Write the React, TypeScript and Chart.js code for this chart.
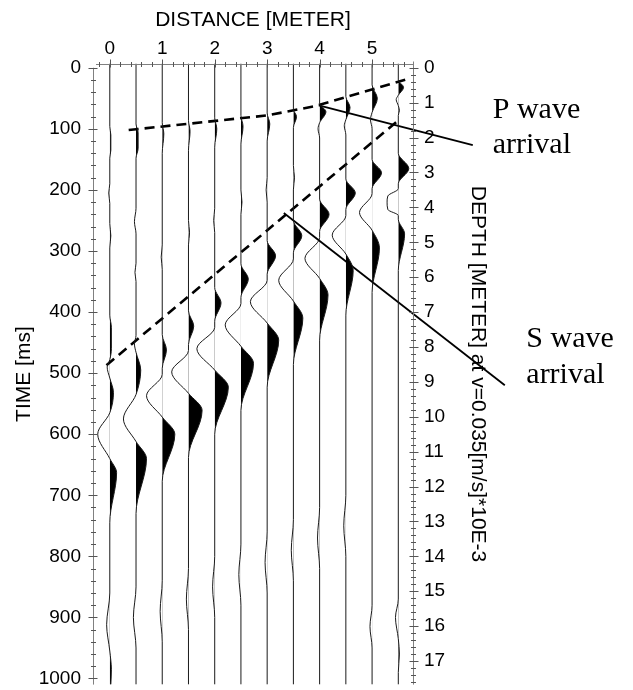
import React, { useEffect, useRef } from 'react';
import { Chart, registerables } from 'chart.js';

Chart.register(...registerables);

// ---------- data ----------
// trace positions along the line (m)
const DISTANCES = [0, 0.5, 1, 1.5, 2, 2.5, 3, 3.5, 4, 4.5, 5, 5.5];

// each trace: [time ms, relative amplitude] (positive = right, filled black)
const TRACE_0 = [[-7,0],[96,0],[110,1],[135,1],[148,0],[190,0],[205,-1],[222,0],[255,0],[275,1],[295,0],[405,0],[425,1.5],[460,1.5],[478,0],[490,-2.5],[508,0],[532,3.5],[565,0],[600,-11.5],[640,0],[663,6.5],[745,0],[860,0],[912,-3],[955,0],[985,1.5],[1010,1]];
const TRACE_1 = [[-7,0],[92,0],[106,2],[132,2],[148,0],[230,0],[252,-1.5],[272,0],[320,0],[335,-1],[350,0],[438,0],[452,-1.5],[466,0],[495,4.5],[535,0],[575,-12],[612,0],[640,10],[730,0],[850,0],[900,-2.5],[950,0],[1010,0]];
const TRACE_2 = [[-7,0],[90,0],[108,1.5],[140,0],[290,0],[310,-1],[330,0],[437,0],[462,4],[492,0],[502,0],[537,-15],[572,0],[600,12],[677,0],[840,0],[890,-2],[940,0],[1010,0]];
const TRACE_3 = [[-7,0],[86,0],[104,1.5],[135,0],[250,0],[270,1],[290,0],[398,0],[423,5],[453,0],[463,0],[498,-16],[533,0],[561,13],[638,0],[820,0],[870,-2],[920,0],[1010,0]];
const TRACE_4 = [[-7,0],[82,0],[100,2],[130,0],[230,0],[250,-1],[270,0],[360,0],[385,6],[415,0],[425,0],[460,-17],[495,0],[523,13],[600,0],[800,0],[850,-2],[900,0],[1010,0]];
const TRACE_5 = [[-7,0],[78,0],[96,2],[125,0],[200,0],[220,1],[240,0],[321,0],[346,7],[376,0],[386,0],[421,-15],[456,0],[484,12],[561,0],[780,0],[830,-2],[880,0],[1010,0]];
const TRACE_6 = [[-7,0],[74,0],[92,2.5],[120,0],[180,0],[200,-1],[220,0],[283,0],[308,8],[338,0],[348,0],[383,-16],[418,0],[446,11],[523,0],[760,0],[810,-2],[860,0],[1010,0]];
const TRACE_7 = [[-7,0],[68,0],[80,3],[98,0],[160,0],[180,1],[200,0],[250,0],[275,8],[303,0],[313,0],[348,-14],[382,0],[410,9],[486,0],[740,0],[790,-2],[840,0],[1010,0]];
const TRACE_8 = [[-7,0],[58,0],[72,6],[90,0],[100,-1.5],[115,0],[215,0],[240,9],[268,0],[278,0],[312,-14],[345,0],[372,8],[446,0],[720,0],[770,-2],[820,0],[1010,0]];
const TRACE_9 = [[-7,0],[47,0],[65,4],[85,0],[95,-1.5],[110,0],[182,0],[205,9],[232,0],[242,0],[274,-13],[305,0],[332,7],[405,0],[700,0],[750,-2],[800,0],[1010,0]];
const TRACE_10 = [[-7,0],[28,0],[50,5],[73,0],[85,-1.5],[100,0],[150,0],[172,9],[198,0],[206,0],[237,-12],[266,0],[295,7],[368,0],[880,0],[915,-2],[950,0],[1010,0]];
const TRACE_11 = [[-7,0],[20,0],[32,5],[45,0],[52,-2],[62,0],[70,1],[78,0],[140,0],[165,10],[190,0],[198,0],[210,-10],[220,-10.7],[232,-10],[242,0],[248,0],[272,6],[332,0],[870,0],[900,-2.7],[935,0],[960,1],[990,0],[1010,0]];
const TRACES = [TRACE_0, TRACE_1, TRACE_2, TRACE_3, TRACE_4, TRACE_5, TRACE_6, TRACE_7, TRACE_8, TRACE_9, TRACE_10, TRACE_11];

// picked arrivals: [distance m, time ms]
const P_ARRIVAL = [[0.36, 102], [3.0, 78], [3.9, 63], [5.65, 19]];
const S_ARRIVAL = [[-0.063, 487], [5.53, 84]];
// pointer lines to the labels: [distance m, time ms]
const P_POINTER = [[3.984, 61.5], [6.92, 126.7]];
const S_POINTER = [[3.317, 237.8], [7.53, 519.8]];
// annotation texts: [text, distance m, time ms (baseline)]
const NOTES: [string, number, number][] = [
  ['P wave', 7.3, 82.8],
  ['arrival', 7.3, 140],
  ['S wave', 7.94, 457.8],
  ['arrival', 7.94, 516.6],
];

const TIME_MIN = -7;
const TIME_MAX = 1010;
const DIST_MIN = -0.32;
const DIST_MAX = 5.78;
const VELOCITY = 0.035; // m per ms, two-way time -> depth
const GAIN = 0.02; // m of offset per amplitude unit

// ---------- styles ----------
const SANS = '"Liberation Sans", Arial, sans-serif';
const SERIF = '"Liberation Serif", "Times New Roman", serif';
const AXIS_COLOR = '#808080';
const TICK_COLOR = '#555555';

const wiggleFill = {
  id: 'wiggleFill',
  beforeDatasetsDraw(chart: any) {
    const { ctx, chartArea: area } = chart;
    const xs = chart.scales.x;
    chart.data.datasets.forEach((ds: any, i: number) => {
      if (ds.baseline === undefined) return;
      const meta = chart.getDatasetMeta(i);
      const line: any = meta.dataset;
      const pts: any[] = meta.data as any[];
      if (!line || !pts.length) return;
      const base = xs.getPixelForValue(ds.baseline);
      ctx.save();
      ctx.beginPath();
      ctx.rect(base, area.top, area.right - base, area.bottom - area.top);
      ctx.clip();
      ctx.beginPath();
      if (typeof line.path === 'function') {
        line.path(ctx);
      } else {
        pts.forEach((p, k) => (k ? ctx.lineTo(p.x, p.y) : ctx.moveTo(p.x, p.y)));
      }
      ctx.lineTo(base, pts[pts.length - 1].y);
      ctx.lineTo(base, pts[0].y);
      ctx.closePath();
      ctx.fillStyle = '#000';
      ctx.fill();
      ctx.restore();
    });
  },
};

const frameTicks = {
  id: 'frameTicks',
  afterDatasetsDraw(chart: any) {
    const { ctx, chartArea: a } = chart;
    const { x, y, y2 } = chart.scales;
    ctx.save();
    ctx.lineWidth = 1;
    ctx.strokeStyle = AXIS_COLOR;
    const ty = Math.round(a.top) + 0.5;
    const lx = Math.round(a.left) + 0.5;
    const rx = Math.round(a.right) + 0.5;
    ctx.beginPath();
    ctx.moveTo(a.left + 3, ty); ctx.lineTo(a.right, ty);
    ctx.moveTo(lx, y.getPixelForValue(0)); ctx.lineTo(lx, a.bottom);
    ctx.moveTo(rx, a.top - 2); ctx.lineTo(rx, a.bottom);
    ctx.stroke();
    ctx.strokeStyle = TICK_COLOR;
    ctx.beginPath();
    for (let k = -1; k <= 29; k++) {
      const v = k * 0.2;
      if (v < DIST_MIN || v > DIST_MAX) continue;
      const px = Math.round(x.getPixelForValue(v)) + 0.5;
      const major = k % 5 === 0;
      ctx.moveTo(px, ty - (major ? 5 : 2.5));
      ctx.lineTo(px, ty + (major ? 3 : 2.5));
    }
    for (let k = 0; k <= 50; k++) {
      const v = k * 20;
      if (v > TIME_MAX) continue;
      const py = Math.round(y.getPixelForValue(v)) + 0.5;
      const major = k % 5 === 0;
      ctx.moveTo(lx - (major ? 5 : 2.5), py);
      ctx.lineTo(lx + (major ? 4 : 2.5), py);
    }
    for (let k = 0; k <= 90; k++) {
      const v = k * 0.2;
      if (v > y2.max) continue;
      const py = Math.round(y2.getPixelForValue(v)) + 0.5;
      const major = k % 5 === 0;
      ctx.moveTo(rx - (major ? 4 : 2.5), py);
      ctx.lineTo(rx + (major ? 5 : 2.5), py);
    }
    ctx.stroke();
    ctx.restore();
  },
};

const noteText = {
  id: 'noteText',
  afterDraw(chart: any) {
    const { ctx } = chart;
    const { x, y } = chart.scales;
    ctx.save();
    ctx.font = `30px ${SERIF}`;
    ctx.fillStyle = '#000';
    ctx.textAlign = 'left';
    ctx.textBaseline = 'alphabetic';
    NOTES.forEach(([text, d, t]) => ctx.fillText(text, x.getPixelForValue(d), y.getPixelForValue(t)));
    ctx.restore();
  },
};

const toXY = (pts: number[][]) => pts.map(([d, t]) => ({ x: d, y: t }));

export default function App() {
  const ref = useRef<HTMLCanvasElement>(null);
  useEffect(() => {
    document.documentElement.style.overflow = 'hidden';
    document.body.style.overflow = 'hidden';
    Chart.defaults.font.family = SANS;
    Chart.defaults.color = '#000';

    const traceSets = TRACES.map((tr, i) => ({
      data: tr.map(([t, a]) => ({ x: DISTANCES[i] + a * GAIN, y: t })),
      baseline: DISTANCES[i],
      borderColor: '#1a1a1a',
      borderWidth: 1,
      pointRadius: 0,
      fill: false,
      cubicInterpolationMode: 'monotone',
    }));
    const dashed = [P_ARRIVAL, S_ARRIVAL].map((p) => ({
      data: toXY(p),
      borderColor: '#000',
      borderWidth: 2.6,
      borderDash: [10, 6],
      pointRadius: 0,
      fill: false,
      tension: 0,
    }));
    const pointers = [P_POINTER, S_POINTER].map((p) => ({
      data: toXY(p),
      borderColor: '#000',
      borderWidth: 1.8,
      pointRadius: 0,
      fill: false,
      tension: 0,
      clip: false,
    }));

    const chart = new Chart(ref.current as HTMLCanvasElement, {
      type: 'line',
      data: { datasets: [...traceSets, ...dashed, ...pointers] as any },
      options: {
        indexAxis: 'y',
        animation: false,
        responsive: false,
        devicePixelRatio: 1,
        events: [],
        layout: { padding: { left: 0, top: 0, right: 143, bottom: 10 } },
        plugins: { legend: { display: false }, tooltip: { enabled: false } },
        scales: {
          x: {
            type: 'linear',
            position: 'top',
            min: DIST_MIN,
            max: DIST_MAX,
            grid: { display: false, drawTicks: false },
            border: { display: false },
            ticks: { stepSize: 1, includeBounds: false, padding: 3, font: { size: 19 }, color: '#000', callback: (v: any) => String(v) },
            title: { display: true, text: 'DISTANCE [METER]', font: { size: 21 }, color: '#000', padding: { top: 0, bottom: 0 } },
            afterFit: (s: any) => { s.height = 55.5; },
          },
          y: {
            type: 'linear',
            position: 'left',
            reverse: true,
            min: TIME_MIN,
            max: TIME_MAX,
            grid: { display: false, drawTicks: false },
            border: { display: false },
            ticks: { stepSize: 100, includeBounds: false, padding: 12, font: { size: 19 }, color: '#000', callback: (v: any) => String(v) },
            title: { display: true, text: 'TIME [ms]', font: { size: 21 }, color: '#000', padding: { top: 3.4, bottom: 0 } },
            afterFit: (s: any) => { s.width = 85; },
          },
          y2: {
            type: 'linear',
            position: 'right',
            reverse: true,
            min: (TIME_MIN * VELOCITY) / 2,
            max: (TIME_MAX * VELOCITY) / 2,
            grid: { display: false, drawTicks: false },
            border: { display: false },
            ticks: { stepSize: 1, includeBounds: false, padding: 11, font: { size: 19 }, color: '#000', callback: (v: any) => String(v) },
            title: { display: true, text: 'DEPTH [METER] at v=0.035[m/s]*10E-3', font: { size: 21 }, color: '#000', padding: { top: 0, bottom: 0 } },
            afterFit: (s: any) => { s.width = 77; },
          },
        },
      } as any,
      plugins: [wiggleFill, frameTicks, noteText],
    });
    return () => chart.destroy();
  }, []);

  return (
    <div style={{ width: 625, height: 682, overflow: 'hidden' }}>
      <canvas ref={ref} width={625} height={700} style={{ display: 'block', width: 625, height: 700 }} />
    </div>
  );
}
